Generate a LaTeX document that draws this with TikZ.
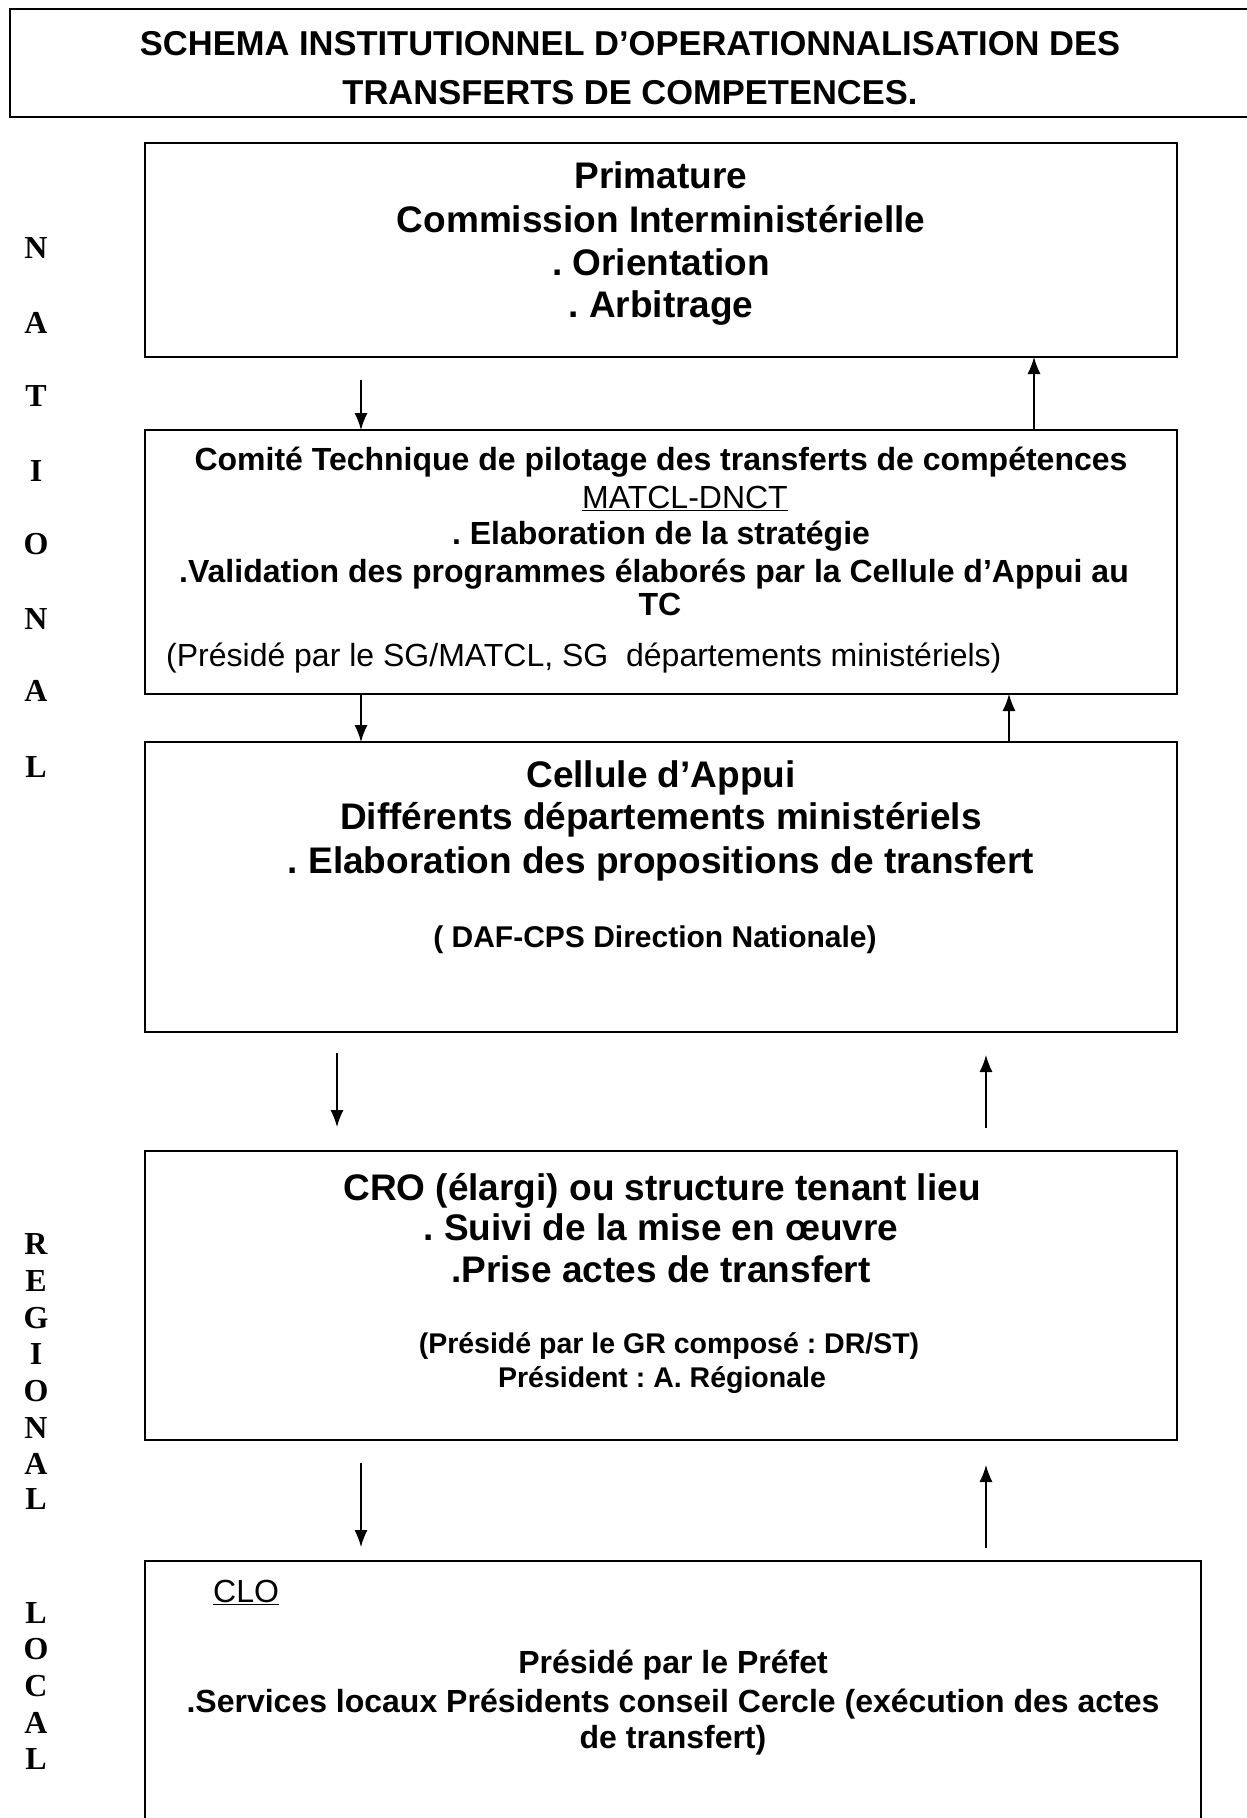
\documentclass[tikz,border=0pt]{standalone}
\usepackage{fontspec}
\setmainfont{Liberation Sans}
\newfontfamily\serifb{Liberation Serif}
\usetikzlibrary{arrows.meta}
\newcommand{\fsz}[1]{\fontsize{#1}{#1}\selectfont}
\frenchspacing
\begin{document}
\begin{tikzpicture}[x=1pt,y=-1pt,
 box/.style={draw, line width=2.4pt, rectangle, inner sep=0pt, outer sep=0pt},
 arr/.style={line width=1.3pt, -{Latex[length=17pt,width=13pt]}},
 big/.style={anchor=base, inner sep=0pt, font=\fsz{37}\bfseries},
 med/.style={anchor=base, inner sep=0pt, font=\fsz{32}\bfseries},
 sml/.style={anchor=base, inner sep=0pt, font=\fsz{28.5}\bfseries},
 reg/.style={anchor=base, inner sep=0pt, font=\fsz{32}},
 side/.style={anchor=base, inner sep=0pt, font=\fsz{32}\serifb\bfseries},
 ttl/.style={anchor=base, inner sep=0pt, font=\fsz{34.5}\bfseries}]
\useasboundingbox (0,0) rectangle (1247,1818);
\fill[white] (0,0) rectangle (1247,1818);

% boxes
\node[box, minimum width=1250pt, minimum height=108pt] (titlebox) at (635,63) {};
\node[box, minimum width=1032pt, minimum height=214pt] (prim) at (661,250) {};
\node[box, minimum width=1032pt, minimum height=264pt] (comite) at (661,562) {};
\node[box, minimum width=1032pt, minimum height=290pt] (cellule) at (661,887) {};
\node[box, minimum width=1032pt, minimum height=289pt] (cro) at (661,1295.5) {};
\node[box, minimum width=1056pt, minimum height=279pt] (clo) at (673,1700.5) {};

% title
\node[ttl] (title1) at (630,55) {SCHEMA INSTITUTIONNEL D’OPERATIONNALISATION DES};
\node[ttl] (title2) at (630,104) {TRANSFERTS DE COMPETENCES.};

% Primature
\node[big] (p1) at (661,188) {Primature};
\node[big] (p2) at (661,232) {Commission Interministérielle};
\node[big] (p3) at (661,275) {. Orientation};
\node[big] (p4) at (661,317) {. Arbitrage};

% Comite
\node[med] (c1) at (661,470) {Comité Technique de pilotage des transferts de compétences};
\node[reg] (c2) at (685,508) {\underline{MATCL-DNCT}};
\node[med] (c3) at (661,544) {. Elaboration de la stratégie};
\node[med] (c4) at (654,582) {.Validation des programmes élaborés par la Cellule d’Appui au};
\node[med] (c5) at (660,615) {TC};
\node[reg, anchor=base west] (c6) at (166,666) {(Présidé par le SG/MATCL, SG\ \ départements ministériels)};

% Cellule
\node[big] (e1) at (661,787) {Cellule d’Appui};
\node[big] (e2) at (661,829) {Différents départements ministériels};
\node[big] (e3) at (661,873) {. Elaboration des propositions de transfert};
\node[anchor=base, inner sep=0pt, font=\fsz{30}\bfseries] (e4) at (655,947) {( DAF-CPS Direction Nationale)};

% CRO
\node[big] (r1) at (662,1200) {CRO (élargi) ou structure tenant lieu};
\node[big] (r2) at (661,1240) {. Suivi de la mise en œuvre};
\node[big] (r3) at (661,1282) {.Prise actes de transfert};
\node[sml] (r4) at (669,1353) {(Présidé par le GR composé : DR/ST)};
\node[sml] (r5) at (662,1387) {Président : A. Régionale};

% CLO
\node[reg, anchor=base west] (l1) at (213,1602) {\underline{CLO}};
\node[med] (l2) at (673,1673) {Présidé par le Préfet};
\node[med] (l3) at (673,1712) {.Services locaux Présidents conseil Cercle (exécution des actes};
\node[med] (l4) at (673,1748) {de transfert)};

% side labels
\foreach \l/\y [count=\i] in {N/258,A/333,T/406,I/481,O/554,N/629,A/701,L/777}
  \node[side] (nat\i) at (36,\y) {\l};
\foreach \l/\y [count=\i] in {R/1254,E/1291,G/1328,I/1364,O/1401,N/1438,A/1474,L/1509}
  \node[side] (reg\i) at (36,\y) {\l};
\foreach \l/\y [count=\i] in {L/1623,O/1659,C/1696,A/1733,L/1769}
  \node[side] (loc\i) at (36,\y) {\l};

% connectors
\coordinate (a1s) at (361,380);
\draw[arr] (a1s) -- (a1s |- comite.north);
\coordinate (a2x) at (1034,0);
\draw[arr] (a2x |- comite.north) -- (a2x |- prim.south);
\coordinate (a3x) at (361,0);
\draw[arr] (a3x |- comite.south) -- (a3x |- cellule.north);
\coordinate (a4x) at (1009,0);
\draw[arr] (a4x |- cellule.north) -- (a4x |- comite.south);
\coordinate (a5s) at (337,1053);
\coordinate (a5e) at (337,1127);
\draw[arr] (a5s) -- (a5e);
\coordinate (a6s) at (986,1128);
\coordinate (a6e) at (986,1055);
\draw[arr] (a6s) -- (a6e);
\coordinate (a7s) at (361,1463);
\coordinate (a7e) at (361,1547);
\draw[arr] (a7s) -- (a7e);
\coordinate (a8s) at (986,1548);
\coordinate (a8e) at (986,1465);
\draw[arr] (a8s) -- (a8e);
\end{tikzpicture}
\end{document}
